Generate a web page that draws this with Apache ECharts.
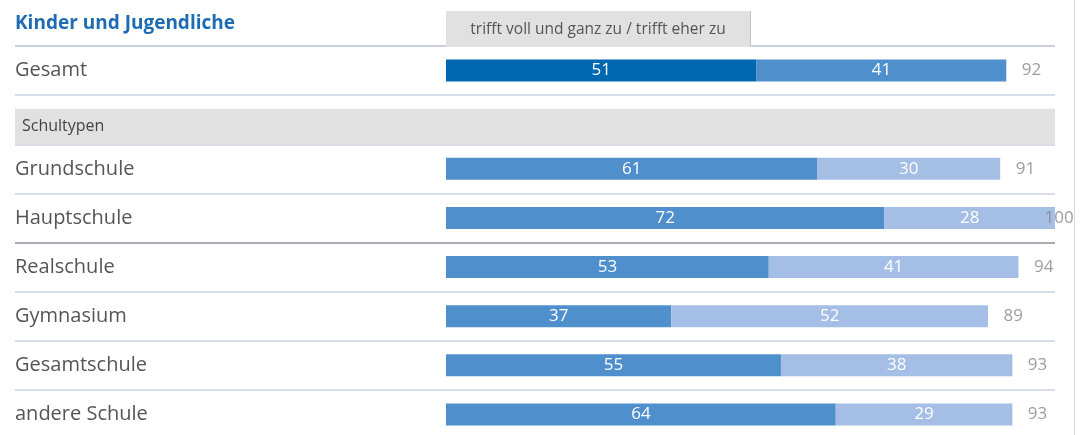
<!DOCTYPE html>
<html>
<head>
<meta charset="utf-8">
<script src="https://cdn.jsdelivr.net/npm/echarts@6/dist/echarts.min.js"></script>
<style>
html, body { margin: 0; padding: 0; background: #fff; }
#main { width: 1080px; height: 435px; }
</style>
</head>
<body>
<div id="main"></div>
<script>
// Daten (Prozent)
var categories = ['Gesamt', 'Schultypen', 'Grundschule', 'Hauptschule', 'Realschule', 'Gymnasium', 'Gesamtschule', 'andere Schule'];
var sectionName = 'Schultypen';
var vollUndGanz = [51, null, 61, 72, 53, 37, 55, 64];
var eherZu = [41, null, 30, 28, 41, 52, 38, 29];
var gesamtWerte = [92, null, 91, 100, 94, 89, 93, 93];
var headerText = 'trifft voll und ganz zu / trifft eher zu';
var titleText = 'Kinder und Jugendliche';

var FONT = '"Open Sans", "Noto Sans", sans-serif';
var xMin = -70.77;
var xMax = 100;

var chart = echarts.init(document.getElementById('main'));

// Gesamt-Zeile hat eigene Farben
function segData(values, firstColor, otherColor){
	return values.map(function(v, i){
		if(v === null) return null;
		return { value: v, itemStyle: { color: i === 0 ? firstColor : otherColor } };
	});
}

var totalData = gesamtWerte.map(function(v){
	if(v === null) return null;
	var item = { value: v };
	if(v >= xMax){
		item.label = { offset: [-26, 0] };
	}
	return item;
});

var bandData = categories.map(function(c){
	return c === sectionName ? 1 : null;
});

var lineColors = ['#c8ceda', '#d7dde9', '#d3dbea', '#d7dde9', '#a9acb2', '#d7dde9', '#d7dde9', '#d7dde9', '#d7dde9'];

var valueLabel = { show: true, position: 'inside', color: '#fff', fontSize: 17, fontFamily: FONT };

option = {
	animation: false,
	backgroundColor: '#fff',
	grid: [
		{ left: 15, right: 25, top: 46, height: 393, outerBoundsMode: 'none' },
		{ left: 15, right: 25, top: 53, height: 393, outerBoundsMode: 'none' }
	],
	xAxis: [
		{ type: 'value', gridIndex: 0, min: xMin, max: xMax, show: false },
		{ type: 'value', gridIndex: 1, min: 0, max: 1, show: false }
	],
	yAxis: [
		{
			type: 'category',
			gridIndex: 0,
			data: categories,
			inverse: true,
			axisLine: { show: false },
			axisTick: { show: false },
			splitLine: { show: true, lineStyle: { color: lineColors, width: 2 } },
			axisLabel: {
				inside: true,
				margin: 0,
				color: '#555',
				fontSize: 20,
				fontFamily: FONT,
				formatter: function(v){ return v === sectionName ? '' : v; }
			}
		},
		{
			type: 'category',
			gridIndex: 1,
			data: categories,
			inverse: true,
			show: false
		}
	],
	graphic: [
		{
			type: 'text',
			left: 15,
			top: 14,
			z: 10,
			style: { text: titleText, fill: '#1d6cb2', font: 'bold 19px ' + FONT }
		},
		{
			type: 'rect',
			shape: { x: 446, y: 11, width: 304, height: 36 },
			z: 10,
			style: { fill: '#e1e1e1' }
		},
		{
			type: 'line',
			shape: { x1: 750.5, y1: 11, x2: 750.5, y2: 46 },
			z: 11,
			style: { stroke: '#c4c4c4', lineWidth: 1 }
		},
		{
			type: 'text',
			x: 598,
			y: 30,
			z: 11,
			style: { text: headerText, fill: '#555', font: '15.5px ' + FONT, align: 'center', verticalAlign: 'middle' }
		},
		{
			type: 'line',
			shape: { x1: 1074.5, y1: 0, x2: 1074.5, y2: 435 },
			style: { stroke: '#d5dbe6', lineWidth: 1 }
		}
	],
	series: [
		{
			name: sectionName,
			type: 'bar',
			xAxisIndex: 1,
			yAxisIndex: 1,
			data: bandData,
			barWidth: 36,
			itemStyle: { color: '#e1e1e1' },
			label: {
				show: true,
				position: 'insideLeft',
				distance: 7,
				formatter: function(p){ return p.name; },
				color: '#444',
				fontSize: 16,
				fontFamily: FONT
			}
		},
		{
			name: 'trifft voll und ganz zu',
			type: 'bar',
			stack: 'zustimmung',
			data: segData(vollUndGanz, '#0067b1', '#4f8fcc'),
			barWidth: 22,
			label: valueLabel
		},
		{
			name: 'trifft eher zu',
			type: 'bar',
			stack: 'zustimmung',
			data: segData(eherZu, '#4f8fcc', '#a5bee6'),
			barWidth: 22,
			label: valueLabel
		},
		{
			name: 'Gesamt',
			type: 'scatter',
			data: totalData,
			symbolSize: 1,
			itemStyle: { color: 'rgba(0,0,0,0)' },
			label: {
				show: true,
				position: 'right',
				distance: 15,
				color: '#858585',
				fontSize: 17,
				fontFamily: FONT
			}
		}
	]
};

chart.setOption(option);
</script>
</body>
</html>
